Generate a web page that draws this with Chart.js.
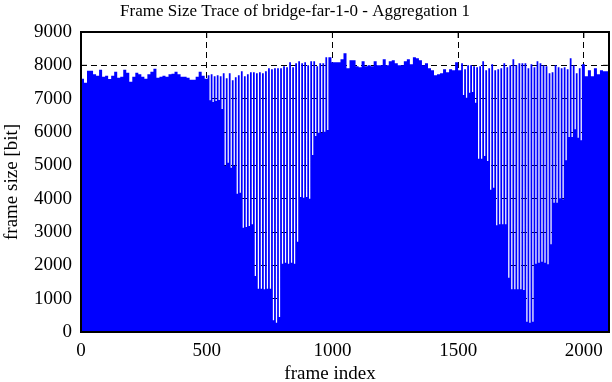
<!DOCTYPE html>
<html>
<head>
<meta charset="utf-8">
<script src="https://cdn.jsdelivr.net/npm/chart.js@4"></script>
<style>
  html, body { margin: 0; padding: 0; background: #fff; }
  #wrap { width: 612px; height: 382px; }
</style>
</head>
<body>
<div id="wrap"><canvas id="grafica" width="612" height="382"></canvas></div>
<script>
// one value per group of 12 frames (top of the bars)
const groupSize = 12
const peakSizes = [
    7600, 7480, 7840, 7840, 7730, 7690, 7870, 7660, 7690, 7590,
    7690, 7810, 7630, 7660, 7870, 7780, 7510, 7660, 7780, 7730,
    7660, 7600, 7730, 7810, 7900, 7630, 7660, 7690, 7660, 7730,
    7750, 7810, 7730, 7660, 7660, 7630, 7570, 7570, 7660, 7810, 7690, 7600,
    7700, 7730, 7670, 7700, 7670, 7760, 7610, 7760, 7550, 7640,
    7700, 7820, 7670, 7730, 7790, 7790, 7760, 7790, 7760, 7820,
    7910, 7880, 7910, 7910, 7910, 7970, 7940, 8090, 7940, 8060,
    8120, 8060, 8090, 8000, 8120, 8120, 7970, 8060, 8060, 8240,
    8240, 8090, 8090, 8090, 8180,
    8360, 7910, 8150, 8150, 7970, 7940, 8120, 7970, 8000, 7970,
    8120, 8000, 8000, 8180, 8000, 8120, 8150, 8060, 8000, 8000,
    8120, 8180, 8030, 8240, 8210, 8150, 8000, 8060, 7910, 7850,
    7700, 7730, 7760, 7880, 7790, 7880, 7850, 8090, 7850, 8060, 7880,
    8000, 8000, 7970, 7940, 7970, 8120, 7850, 7910, 8030, 7850,
    7880, 7910, 8060, 7940, 8000, 8180, 8000, 8060, 8060, 8060,
    7910, 8030, 7940, 8120, 8060, 8000, 7970, 7760, 7790, 8000,
    7940, 7910, 7940, 7880, 8210, 8000, 7760, 7910, 8030, 7670,
    7850, 7670, 7910, 7730, 7850, 7820, 7820
]

// the small frames at the end of each group
const dipOffset = 7
const dipStartA = 42
const dipSizesA = [
    6950, 6900, 6930, 6960, 6690, 4980, 5080, 4930, 4980, 4150,
    4180, 3130, 3150, 3180, 3230, 1680, 1300, 1300, 1280, 1300,
    1300, 350, 280, 450, 2050, 2080, 2050, 2080, 2050, 2710,
    4050, 4030, 4050, 4000, 5310, 5880, 5980, 5980, 6010, 6060
]
const dipStartB = 126
const dipSizesB = [
    7110, 7030, 7180, 7200, 6880, 5200, 5200, 5280, 5130, 4270,
    4330, 3200, 3230, 3230, 3230, 1630, 1280, 1280, 1280, 1280,
    1260, 310, 280, 310, 2050, 2080, 2110, 2080, 2030, 2630,
    3880, 3880, 4010, 3980, 5150, 5850, 5850, 6080, 5830, 5750
]

const xTicks = [0, 500, 1000, 1500, 2000]
const yTicks = [0, 1000, 2000, 3000, 4000, 5000, 6000, 7000, 8000, 9000]
const frameCount = 2100

const points = []
peakSizes.forEach((size, i) => {
    points.push({x: i * groupSize, y: size})
    let dip = null
    if (i >= dipStartA && i < dipStartA + dipSizesA.length) dip = dipSizesA[i - dipStartA]
    if (i >= dipStartB && i < dipStartB + dipSizesB.length) dip = dipSizesB[i - dipStartB]
    if (dip !== null) points.push({x: i * groupSize + dipOffset, y: dip})
});
points.push({x: frameCount, y: peakSizes[peakSizes.length - 1]})

const serif = "'Liberation Serif', 'DejaVu Serif', serif"

// inner ticks (behind the data), frame and texts (on top), like gnuplot
const frameBox = {
    id: 'frameBox',
    beforeDatasetsDraw(chart) {
        const {ctx, chartArea: a, scales} = chart
        ctx.save()
        ctx.strokeStyle = '#000'
        ctx.lineWidth = 1
        ctx.beginPath()
        xTicks.forEach(v => {
            const px = scales.x.getPixelForValue(v)
            ctx.moveTo(px, a.bottom); ctx.lineTo(px, a.bottom - 6)
            ctx.moveTo(px, a.top); ctx.lineTo(px, a.top + 6)
        })
        yTicks.forEach(v => {
            const py = scales.y.getPixelForValue(v)
            ctx.moveTo(a.left, py); ctx.lineTo(a.left + 6, py)
            ctx.moveTo(a.right, py); ctx.lineTo(a.right - 6, py)
        })
        ctx.stroke()
        ctx.restore()
    },
    afterDatasetsDraw(chart) {
        const {ctx, chartArea: a} = chart
        ctx.save()
        ctx.strokeStyle = '#000'
        ctx.lineWidth = 2
        ctx.strokeRect(a.left, a.top, a.right - a.left, a.bottom - a.top)
        ctx.fillStyle = '#000'
        ctx.textAlign = 'center'
        ctx.textBaseline = 'alphabetic'
        ctx.font = '17px ' + serif
        ctx.fillText('Frame Size Trace of bridge-far-1-0 - Aggregation 1', chart.width / 2 - 11, 16)
        ctx.font = '19px ' + serif
        ctx.fillText('frame index', (a.left + a.right) / 2 - 15, 379)
        ctx.restore()
    }
}

const graph = document.querySelector("#grafica")

new Chart(graph, {
    type: 'line',
    data: {
        datasets: [{
            label: 'frame size',
            data: points,
            stepped: true,
            fill: 'origin',
            backgroundColor: 'rgb(0,0,255)',
            borderColor: 'rgba(0,0,0,0)',
            borderWidth: 0,
            pointRadius: 0
        }]
    },
    options: {
        responsive: false,
        animation: false,
        layout: {padding: {left: 0, right: 3, top: 32, bottom: 0}},
        plugins: {
            legend: {display: false},
            tooltip: {enabled: false},
            title: {display: false}
        },
        scales: {
            x: {
                type: 'linear',
                min: 0,
                max: frameCount,
                afterBuildTicks: s => { s.ticks = xTicks.map(v => ({value: v})) },
                afterFit: s => { s.height = 50; s.paddingLeft = 0; s.paddingRight = 0 },
                ticks: {
                    color: '#000',
                    padding: 8,
                    maxRotation: 0,
                    autoSkip: false,
                    font: {family: serif, size: 19},
                    callback: v => String(v)
                },
                grid: {color: '#000', lineWidth: 1, drawTicks: false},
                border: {display: false, dash: [6, 4]}
            },
            y: {
                min: 0,
                max: 9000,
                afterBuildTicks: s => { s.ticks = yTicks.map(v => ({value: v})) },
                afterFit: s => { s.width = 81; s.paddingTop = 0; s.paddingBottom = 0 },
                ticks: {
                    color: '#000',
                    padding: 9,
                    autoSkip: false,
                    font: {family: serif, size: 19},
                    callback: v => String(v)
                },
                grid: {color: '#000', lineWidth: 1, drawTicks: false},
                border: {display: false, dash: [6, 4]},
                title: {
                    display: true,
                    text: 'frame size [bit]',
                    color: '#000',
                    font: {family: serif, size: 19},
                    padding: {top: 1, bottom: 0}
                }
            }
        }
    },
    plugins: [frameBox]
});
</script>
</body>
</html>
